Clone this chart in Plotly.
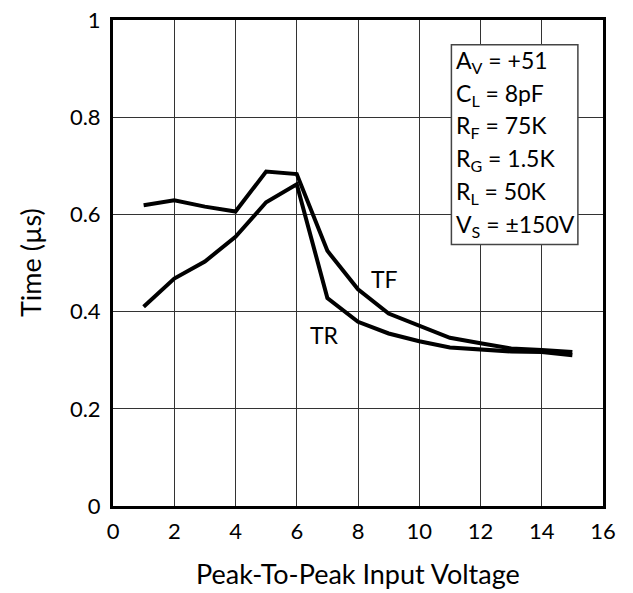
import plotly.graph_objects as go

voltage = [1, 2, 3, 4, 5, 6, 7, 8, 9, 10, 11, 12, 13, 14, 15]
tf_time = [0.619, 0.629, 0.616, 0.606, 0.688, 0.683, 0.525, 0.446, 0.396, 0.372, 0.346, 0.335, 0.324, 0.321, 0.317]
tr_time = [0.410, 0.468, 0.503, 0.554, 0.625, 0.662, 0.428, 0.379, 0.355, 0.339, 0.326, 0.322, 0.318, 0.317, 0.310]

x_ticks = [0, 2, 4, 6, 8, 10, 12, 14, 16]
y_ticks = [0, 0.2, 0.4, 0.6, 0.8, 1.0]
y_tick_labels = ["0", "0.2", "0.4", "0.6", "0.8", "1"]

cond_lines = [
    "A<sub>V</sub> = +51",
    "C<sub>L</sub> = 8pF",
    "R<sub>F</sub> = 75K",
    "R<sub>G</sub> = 1.5K",
    "R<sub>L</sub> = 50K",
    "V<sub>S</sub> = \u00b1150V",
]

FONT = "Lato, Open Sans, sans-serif"

fig = go.Figure()
fig.add_trace(go.Scatter(x=voltage, y=tf_time, mode="lines",
                         line=dict(color="black", width=4), name="TF", showlegend=False))
fig.add_trace(go.Scatter(x=voltage, y=tr_time, mode="lines",
                         line=dict(color="black", width=4), name="TR", showlegend=False))

# condition box
fig.add_shape(type="rect", xref="x", yref="y", x0=11.05, x1=15.18, y0=0.538, y1=0.949,
              line=dict(color="#444", width=1.5), fillcolor="white", layer="above")
for i, t in enumerate(cond_lines):
    fig.add_annotation(x=11.12, y=0.915 - 0.0675 * i, xref="x", yref="y", text=t,
                       showarrow=False, xanchor="left", yanchor="middle",
                       font=dict(family=FONT, size=23, color="black"))

fig.add_annotation(x=8.87, y=0.467, text="TF", showarrow=False,
                   font=dict(family=FONT, size=23, color="black"))
fig.add_annotation(x=6.92, y=0.351, text="TR", showarrow=False,
                   font=dict(family=FONT, size=23, color="black"))

# axis titles
fig.add_annotation(x=0.5, y=0, xref="paper", yref="paper", yshift=-67, text="Peak-To-Peak Input Voltage",
                   showarrow=False, xanchor="center", yanchor="middle",
                   font=dict(family=FONT, size=27, color="black"))
fig.add_annotation(x=0, y=0.5, xref="paper", yref="paper", xshift=-83, text="Time (\u00b5s)",
                   showarrow=False, xanchor="center", yanchor="middle", textangle=-90,
                   font=dict(family=FONT, size=27, color="black"))

fig.update_xaxes(range=[0, 16], tickvals=x_ticks, showgrid=True, gridcolor="#333", gridwidth=1,
                 showline=True, linecolor="black", linewidth=3, mirror=True, zeroline=False,
                 ticks="", ticklabelstandoff=4, automargin=False, ticklabeloverflow="allow",
                 tickfont=dict(family=FONT, size=22, color="black"))
fig.update_yaxes(range=[0, 1], tickvals=y_ticks, ticktext=y_tick_labels, showgrid=True,
                 gridcolor="#333", gridwidth=1,
                 showline=True, linecolor="black", linewidth=3, mirror=True, zeroline=False,
                 ticks="", ticklabelstandoff=5, automargin=False, ticklabeloverflow="allow",
                 tickfont=dict(family=FONT, size=22, color="black"))

fig.update_layout(width=633, height=593, plot_bgcolor="white", paper_bgcolor="white",
                  margin=dict(l=105, r=38, t=12, b=95))

fig.write_html("out.html")
